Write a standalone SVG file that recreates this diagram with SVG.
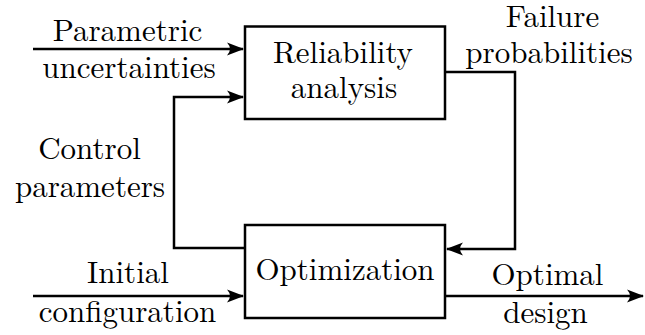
<svg xmlns="http://www.w3.org/2000/svg" width="645" height="335" viewBox="0 0 645 335">
<style>
.box{fill:#fff;stroke:#000;stroke-width:2.5}
.ln{fill:none;stroke:#000;stroke-width:2.5;marker-end:url(#ah)}
</style>
<defs>
<marker id="ah" markerUnits="userSpaceOnUse" markerWidth="20" markerHeight="16" viewBox="-17 -8 20 16" refX="0" refY="0" orient="auto">
<path d="M1,0 L-16,-6.5 Q-10,0 -16,6.5 Z" fill="#000"/>
</marker>
</defs>
<g id="connectors">
<path class="ln" d="M33,49 H243"/>
<path class="ln" d="M245,248 H174 V97 H243"/>
<path class="ln" d="M445,72 H515 V249 H447"/>
<path class="ln" d="M33,296 H243"/>
<path class="ln" d="M445,296 H643"/>
</g>
<g id="reliability" font-family="Latin Modern Roman, Liberation Serif, serif" font-size="31" text-anchor="middle" fill="#000">
<rect class="box" x="245" y="26.5" width="200" height="92.5"/>
<text x="343" y="63">Reliability</text>
<text x="344" y="98">analysis</text>
</g>
<g id="optimization" font-family="Latin Modern Roman, Liberation Serif, serif" font-size="31" text-anchor="middle" fill="#000">
<rect class="box" x="245" y="225" width="200" height="93"/>
<text x="345" y="280">Optimization</text>
</g>
<g id="labels" font-family="Latin Modern Roman, Liberation Serif, serif" font-size="31" text-anchor="middle" fill="#000">
<text x="127.5" y="41">Parametric</text>
<text x="129" y="78">uncertainties</text>
<text x="89.5" y="159">Control</text>
<text x="90" y="196.5">parameters</text>
<text x="128" y="283">Initial</text>
<text x="127.5" y="321.5">configuration</text>
<text x="552.5" y="27">Failure</text>
<text x="549" y="63">probabilities</text>
<text x="547.5" y="285">Optimal</text>
<text x="545.5" y="323">design</text>
</g>
</svg>
